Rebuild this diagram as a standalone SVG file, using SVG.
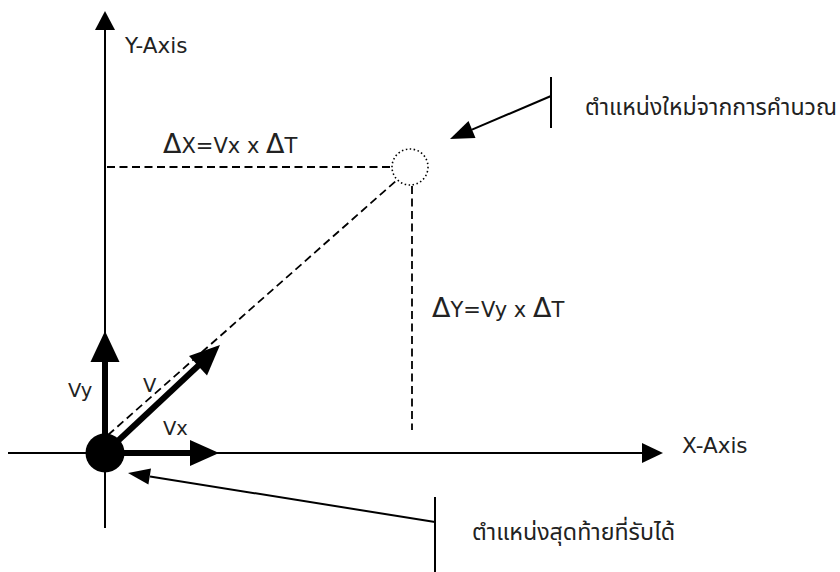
<svg xmlns="http://www.w3.org/2000/svg" width="840" height="572" viewBox="0 0 840 572">
<style>
.ax{stroke:#000;stroke-width:2;fill:none}
.vec{stroke:#000;stroke-width:6;fill:none}
.dash{stroke:#000;stroke-width:1.8;stroke-dasharray:8 4.5;fill:none}
.head{fill:#000;stroke:none}
.lbl{font-family:"DejaVu Sans","Liberation Sans",sans-serif;fill:#222}
.th{font-family:"Noto Sans Thai","Loma","Garuda","Noto Sans",sans-serif;fill:#222}
</style>
<rect width="840" height="572" fill="#fff"/>
<g id="y-axis">
<line class="ax" x1="105" y1="528" x2="105" y2="30"/>
<polygon class="head" points="95,30 115,30 105,11"/>
<text class="lbl" x="125" y="53" font-size="21.5">Y-Axis</text>
</g>
<g id="x-axis">
<line class="ax" x1="8" y1="453" x2="642" y2="453"/>
<polygon class="head" points="642,443 642,463 663,453"/>
<text class="lbl" x="682" y="453" font-size="21.5">X-Axis</text>
</g>
<g id="new-position">
<circle cx="410" cy="167" r="18" fill="none" stroke="#000" stroke-width="1.6" stroke-dasharray="1.5 2.5"/>
</g>
<g id="origin">
<circle cx="105" cy="453" r="19.5" fill="#000"/>
</g>
<g id="connectors">
<line class="dash" x1="107" y1="167" x2="392" y2="167"/>
<line class="dash" x1="412" y1="186" x2="412" y2="430"/>
<line class="dash" x1="108" y1="435" x2="397" y2="180"/>
<line class="vec" x1="105" y1="453" x2="105" y2="362"/>
<polygon class="head" points="90.5,362 119.5,362 105,331"/>
<line class="vec" x1="105" y1="453" x2="191" y2="453"/>
<polygon class="head" points="190,440 190,466 219,453"/>
<line class="vec" x1="105" y1="453" x2="199" y2="365"/>
<polygon class="head" points="207,375.5 189,356 220,345"/>
<line class="ax" x1="551" y1="77" x2="551" y2="128"/>
<line class="ax" x1="551" y1="96" x2="472" y2="129.6"/>
<polygon class="head" points="475.5,138 468.5,121 450,139"/>
<line class="ax" x1="435" y1="497" x2="435" y2="572"/>
<line class="ax" x1="435" y1="522" x2="150" y2="476.5"/>
<polygon class="head" points="151,468.5 148.4,484.4 128,473"/>
</g>
<g id="labels">
<text class="lbl" x="163" y="153" font-size="21">
<tspan font-size="27">Δ</tspan>X=Vx x <tspan font-size="27">Δ</tspan>T</text>
<text class="lbl" x="432" y="317" font-size="21">
<tspan font-size="27">Δ</tspan>Y=Vy x <tspan font-size="27">Δ</tspan>T</text>
<text class="lbl" x="68" y="397" font-size="19.5">Vy</text>
<text class="lbl" x="143" y="392" font-size="19.5">V</text>
<text class="lbl" x="163" y="435" font-size="19.5">Vx</text>
<text class="th" x="585" y="115" font-size="23" textLength="252" lengthAdjust="spacingAndGlyphs">ตำแหน่งใหม่จากการคำนวณ</text>
<text class="th" x="472" y="540" font-size="23" textLength="203" lengthAdjust="spacingAndGlyphs">ตำแหน่งสุดท้ายที่รับได้</text>
</g>
</svg>
